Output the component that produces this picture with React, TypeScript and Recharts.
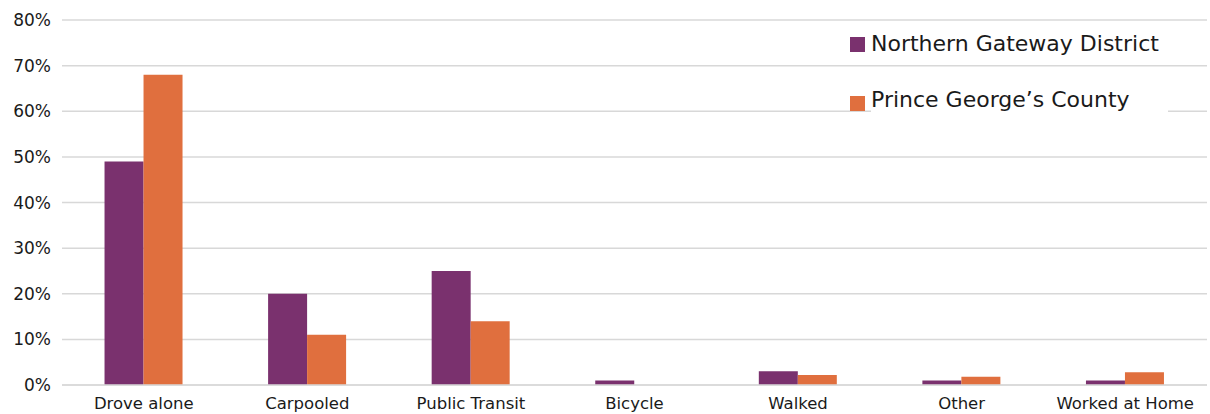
import React from "react";
import { BarChart, Bar, XAxis, YAxis, CartesianGrid, Legend } from "recharts";

// Means of transportation to work, share of workers
const categories = [
  "Drove alone",
  "Carpooled",
  "Public Transit",
  "Bicycle",
  "Walked",
  "Other",
  "Worked at Home",
];
const northernGateway = [49, 20, 25, 1, 3, 1, 1];
const princeGeorges = [68, 11, 14, 0, 2.2, 1.8, 2.8];
const yTicks = [0, 10, 20, 30, 40, 50, 60, 70, 80];

const seriesNames = {
  ng: "Northern Gateway District",
  pg: "Prince George\u2019s County",
};
const PURPLE = "#7a316e";
const ORANGE = "#e06f3e";
const FONT = "'DejaVu Sans', sans-serif";

const rows = categories.map((name, i) => ({
  name,
  ng: northernGateway[i],
  pg: princeGeorges[i],
}));

const LegendBox = () => {
  const items = [
    { label: seriesNames.ng, color: PURPLE },
    { label: seriesNames.pg, color: ORANGE },
  ];
  return (
    <div style={{ fontFamily: FONT, fontSize: 22, color: "#1a1a1a" }}>
      {items.map((it, i) => (
        <div
          key={it.label}
          style={{
            display: "flex",
            alignItems: "center",
            height: 30,
            marginBottom: i === 0 ? 29 : 0,
          }}
        >
          <span
            style={{
              display: "inline-block",
              width: 15,
              height: 15,
              background: it.color,
              marginRight: 6,
            }}
          />
          <span
            style={{
              background: "#fff",
              lineHeight: "30px",
              paddingRight: i === 1 ? 38 : 0,
              paddingBottom: i === 1 ? 6 : 0,
              whiteSpace: "nowrap",
            }}
          >
            {it.label}
          </span>
        </div>
      ))}
    </div>
  );
};

export default function App() {
  return (
    <div
      style={{
        position: "absolute",
        left: 0,
        top: 0,
        width: 1210,
        height: 414,
        overflow: "hidden",
        background: "#fff",
      }}
    >
      <BarChart
        width={1210}
        height={414}
        data={rows}
        margin={{ top: 20, right: 3, bottom: 0, left: 0 }}
        barCategoryGap="26%"
        barGap={0}
      >
        <CartesianGrid vertical={false} stroke="#d8d8d8" strokeWidth={1.5} />
        <XAxis
          dataKey="name"
          height={29}
          tickLine={false}
          axisLine={{ stroke: "#d8d8d8", strokeWidth: 1.5 }}
          tickMargin={6}
          interval={0}
          tick={{ fill: "#1a1a1a", fontSize: 16.5, fontFamily: FONT }}
        />
        <YAxis
          width={62}
          domain={[0, 80]}
          ticks={yTicks}
          tickFormatter={(v) => `${v}%`}
          tickLine={false}
          axisLine={false}
          tickMargin={5}
          tick={{ fill: "#1a1a1a", fontSize: 17, fontFamily: FONT }}
        />
        <Legend
          layout="horizontal"
          verticalAlign="middle"
          align="center"
          content={<LegendBox />}
          wrapperStyle={{ position: "absolute", left: 850, top: 29, width: 340 }}
        />
        <Bar dataKey="ng" name={seriesNames.ng} fill={PURPLE} isAnimationActive={false} />
        <Bar dataKey="pg" name={seriesNames.pg} fill={ORANGE} isAnimationActive={false} />
      </BarChart>
    </div>
  );
}
